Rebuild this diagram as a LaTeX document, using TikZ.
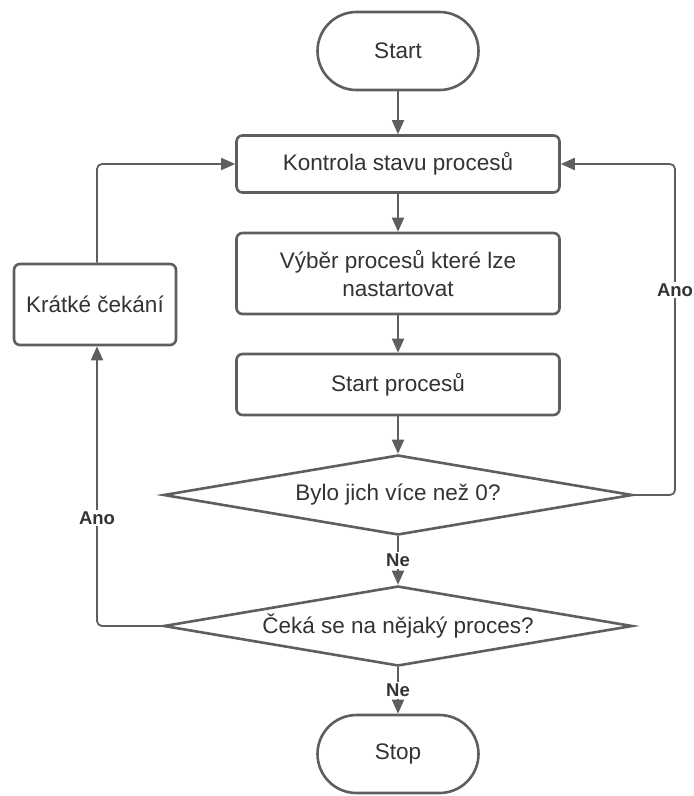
\documentclass[tikz,border=0pt]{standalone}
\usepackage{fontspec}
\setmainfont{Liberation Sans}
\usetikzlibrary{shapes.geometric,arrows.meta}
\definecolor{lc}{HTML}{5E5E5E}
\definecolor{tc}{HTML}{333333}
\begin{document}
\begin{tikzpicture}[x=1pt,y=-1pt,
  base/.style={draw=lc,line width=2.6pt,fill=white,text=tc,font=\fontsize{22.5}{28}\selectfont,inner sep=0pt},
  term/.style={base,shape=rectangle,rounded corners=39pt,minimum width=161pt,minimum height=78pt},
  proc/.style={base,shape=rectangle,rounded corners=6pt,minimum width=323pt,minimum height=#1},
  dec/.style={base,diamond,aspect=5.86,minimum width=469pt,minimum height=80pt},
  conn/.style={draw=lc,line width=1.8pt,rounded corners=5pt,-{Triangle[length=14pt,width=12pt]}},
  lab/.style={fill=white,text=tc,font=\fontsize{18.5}{22}\selectfont\bfseries,inner sep=2pt}]
\useasboundingbox (0,0) rectangle (694,796);
\node[term] (start) at (398,51) {Start};
\node[proc=57pt] (k) at (398,164) {Kontrola stavu procesů};
\node[proc=81pt,align=center] (v) at (398,273.5) {Výběr procesů které lze\\nastartovat};
\node[proc=61pt] (s) at (398,384.5) {Start procesů};
\node[dec] (d1) at (398,495) {Bylo jich více než 0?};
\node[dec] (d2) at (398,626) {Čeká se na nějaký proces?};
\node[proc=81pt,minimum width=162pt] (w) at (95,304.5) {Krátké čekání};
\node[term] (stop) at (398,754) {Stop};
\draw[conn] (start) -- (k);
\draw[conn] (k) -- (v);
\draw[conn] (v) -- (s);
\draw[conn] (s) -- (d1);
\coordinate (r) at (675,164);
\draw[conn] (d1.east) -| (r) -- (k.east);
\node[lab] at (675,290) {Ano};
\draw[conn] (d1.south) -- node[lab]{Ne} (d2.north);
\coordinate (l) at (97,626);
\draw[conn] (d2.west) -- (l) -- (w.south -| l);
\node[lab] at (97,518) {Ano};
\coordinate (t) at (97,164);
\draw[conn] (w.north -| t) -- (t) -- (k.west);
\draw[conn] (d2.south) -- node[lab]{Ne} (stop.north);
\end{tikzpicture}
\end{document}
